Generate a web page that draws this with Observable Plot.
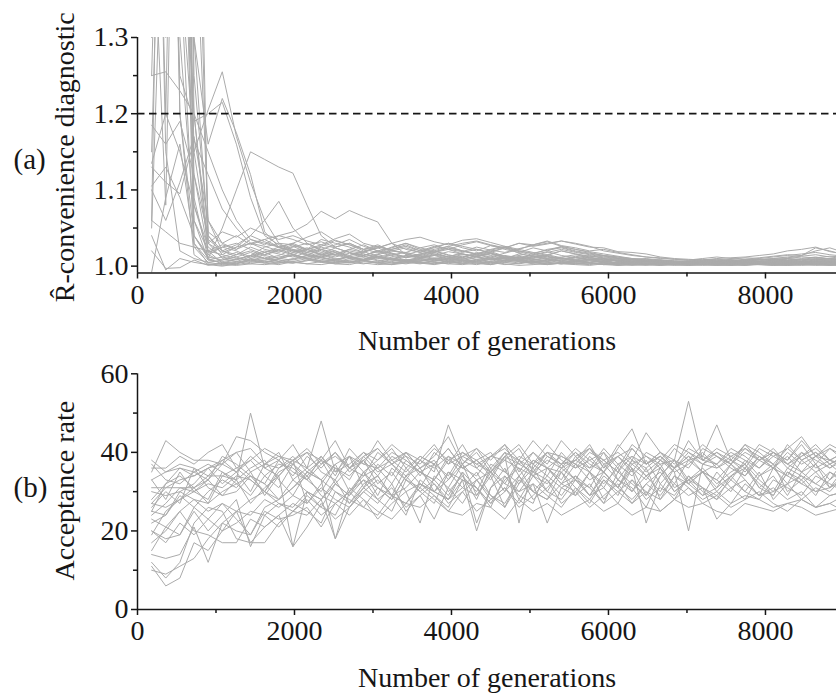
<!DOCTYPE html>
<html><head><meta charset="utf-8">
<script src="https://cdn.jsdelivr.net/npm/d3@7"></script>
<script src="https://cdn.jsdelivr.net/npm/@observablehq/plot@0.6"></script>
<style>
html,body{margin:0;padding:0;background:#fff;}
#chart{position:relative;width:836px;height:693px;overflow:hidden;background:#fff;}
#chart svg{position:absolute;left:0;}
</style></head><body><div id="chart"></div>
<script>
// x positions (number of generations) shared by every run
const generations = [180,360,540,720,900,1080,1260,1440,1620,1800,
  1980,2160,2340,2520,2700,2880,3060,3240,3420,3600,
  3780,3960,4140,4320,4500,4680,4860,5040,5220,5400,
  5580,5760,5940,6120,6300,6480,6660,6840,7020,7200,
  7380,7560,7740,7920,8100,8280,8460,8640,8820,9000];

// (a) R-hat per run, stored as (R-hat - 1) x 1000
const rhatRunsPermil = [
 [900,1500,800,40,12,8,15,20,14,10, 18,22,15,9,12,16,10,8,14,12, 9,11,15,13,8,10,12,9,7,10, 8,11,9,6,8,7,5,6,4,5, 6,5,7,6,8,7,9,8,10,9],
 [400,1200,1600,900,30,10,6,12,18,25, 20,14,22,18,12,9,15,20,17,11, 14,19,16,12,8,11,14,10,13,9, 12,8,10,7,9,6,8,5,7,6, 5,7,6,4,6,5,7,9,8,6],
 [150,800,1100,60,8,5,3,10,6,4, 9,14,11,7,5,8,12,9,6,4, 7,10,8,5,9,12,7,4,6,8, 5,7,4,3,6,4,3,5,4,3, 4,3,5,4,3,5,4,6,5,4],
 [700,300,900,120,20,4,2,5,8,12, 15,10,6,4,8,11,7,5,3,6, 9,6,4,7,10,5,3,6,8,4, 3,5,2,4,3,2,4,3,2,3, 2,3,4,2,3,2,3,4,3,2],
 [1200,900,400,25,5,2,1,3,2,4, 6,3,2,5,7,4,2,3,6,8, 5,3,2,4,6,3,1,2,4,3, 2,1,3,2,1,2,1,2,1,2, 1,2,1,3,2,1,2,1,2,1],
 [60,1100,500,200,15,6,9,14,25,30, 28,22,35,30,25,18,24,30,35,38, 32,28,34,36,31,26,22,28,33,27, 24,20,22,18,15,12,10,9,8,10, 12,10,9,11,13,15,14,20,24,18],
 [2000,1800,1300,300,35,20,28,40,32,25, 30,38,45,33,28,22,26,20,18,24, 28,22,19,25,21,18,23,27,30,33, 29,25,24,19,18,16,12,10,9,8, 10,11,12,14,16,20,22,25,19,16],
 [500,80,1000,700,40,15,10,8,12,6, 10,14,9,6,4,7,11,8,5,3, 6,9,7,4,2,5,8,6,3,5, 4,3,5,2,4,3,2,4,3,2, 3,4,2,3,5,3,4,3,5,4],
 [1000,150,20,10,5,8,12,6,4,9, 15,11,7,5,10,13,8,4,6,10, 8,5,3,7,11,9,6,4,8,6, 3,5,7,4,6,3,5,2,4,3, 5,4,3,5,4,6,5,7,6,5],
 [300,1400,700,30,3,1,4,7,10,8, 5,3,6,9,12,8,5,2,4,7, 10,7,4,2,5,8,6,3,2,4, 6,4,2,1,3,2,1,3,2,1, 2,1,3,2,1,2,3,2,1,2],
 [1600,600,1200,80,18,25,30,22,15,20, 26,18,12,16,22,28,20,14,11,15, 19,24,20,15,12,17,22,18,14,20, 16,12,14,10,8,6,7,5,6,7, 8,6,7,9,8,10,12,11,13,12],
 [800,1300,200,15,2,4,6,3,7,5, 4,8,5,3,2,6,4,9,7,5, 3,6,4,8,5,2,4,7,5,3, 6,4,3,5,2,4,3,2,3,4, 3,2,4,3,2,3,4,3,2,3],
 [50,600,1000,150,30,45,38,50,42,35, 40,33,28,36,42,30,25,22,28,20, 24,30,26,22,18,24,20,16,22,25, 20,17,14,12,10,9,8,7,6,7, 6,8,7,9,8,7,10,12,9,8],
 [1100,1500,900,500,60,20,12,18,10,14, 22,16,11,8,14,19,13,10,7,12, 16,12,9,13,17,11,8,12,15,11, 9,12,8,7,5,6,4,5,3,4, 5,4,6,5,4,6,5,7,6,5],
 [900,200,1100,90,10,3,5,9,4,2, 6,10,7,3,5,8,4,2,6,9, 5,3,7,4,2,6,9,5,3,4, 7,4,2,3,5,2,3,4,2,3, 4,2,3,4,3,2,4,3,4,3],
 [400,1700,1500,250,45,30,22,35,28,40, 35,28,32,25,30,22,18,25,30,24, 20,26,30,33,28,24,30,26,29,33, 30,26,20,17,14,12,11,9,8,9, 7,9,11,10,12,14,16,18,15,13],
 [250,255,230,200,150,100,60,35,30,25, 20,24,18,14,20,16,12,15,18,14, 10,13,16,12,9,14,11,8,12,10, 7,9,6,8,5,7,6,5,6,4, 6,5,7,6,5,7,6,8,7,6],
 [185,160,190,120,40,20,15,25,18,22, 28,20,15,24,18,14,20,17,12,16, 20,15,11,18,14,10,16,13,9,12, 15,11,8,10,7,6,8,5,6,7, 6,8,7,6,8,9,8,10,9,8],
 [135,200,150,80,25,12,8,14,20,16, 12,18,22,15,10,14,19,13,8,11, 15,10,7,12,16,11,8,13,10,7, 11,8,10,6,5,7,4,5,4,5, 4,5,6,5,4,6,5,6,5,4],
 [105,130,90,40,15,25,20,12,18,10, 8,12,16,10,6,9,13,8,5,7, 11,8,6,9,12,7,4,8,10,6, 8,5,7,4,6,3,5,4,3,4, 3,4,5,4,3,4,5,4,3,4],
 [100,60,110,170,60,30,40,28,35,25, 30,22,26,34,28,20,24,30,22,18, 25,30,24,20,27,22,18,24,20,26, 22,18,14,12,9,10,8,7,6,5, 6,7,8,7,9,8,7,9,10,8],
 [60,45,30,25,20,28,22,30,26,20, 15,22,28,24,18,12,16,22,26,20, 16,12,18,22,17,13,10,15,19,14, 11,14,10,8,6,7,5,4,5,6, 5,4,6,5,7,6,5,6,7,6],
 [40,-5,10,5,2,0,3,8,5,10, 14,9,5,8,12,7,4,6,9,5, 3,7,10,6,4,8,11,7,5,3, 6,9,5,4,2,3,2,1,2,3, 2,1,2,3,2,1,2,3,2,1],
 [-8,90,160,30,8,12,18,10,15,22, 16,10,14,20,12,8,15,11,7,10, 14,9,12,16,10,7,13,9,6,11, 8,5,7,4,3,4,2,3,2,3, 2,3,4,3,2,4,3,2,3,2],
 [20,-3,-2,8,1,4,9,14,10,6, 4,7,12,8,5,3,6,10,7,4, 2,5,8,6,3,7,10,5,2,4, 3,2,4,1,2,1,3,2,1,2, 1,2,1,2,1,2,1,2,1,2],
 [130,110,95,165,120,75,50,30,22,18, 25,30,20,15,22,18,26,21,16,12, 18,22,16,13,19,24,17,12,15,20, 16,13,11,9,8,7,6,5,4,5, 4,6,5,4,6,7,6,5,7,6],
 [600,1500,400,150,205,255,170,110,60,30, 20,15,12,18,10,8,12,9,14,10, 7,10,13,9,6,11,8,5,9,7, 5,8,6,4,3,4,3,2,3,4, 3,2,3,4,3,4,3,5,4,3],
 [250,900,1300,300,160,220,175,120,45,25, 18,22,16,12,17,14,20,16,11,14, 18,12,9,14,17,12,8,11,14,10, 7,9,6,8,5,4,3,4,5,3, 4,5,3,4,5,4,6,5,4,5],
 [1300,700,250,190,200,215,160,90,40,28, 22,18,25,20,14,19,24,17,12,16, 20,14,11,16,19,13,10,15,12,9, 13,10,8,7,6,5,4,5,6,4, 5,6,4,5,7,6,5,7,6,5],
 [1800,1000,200,40,10,50,100,150,140,130, 122,80,40,25,30,22,28,20,24,18, 22,26,20,16,21,25,19,14,18,22, 18,15,12,10,9,8,6,5,6,7, 8,7,9,8,10,11,13,15,12,10],
 [700,1900,300,60,20,15,25,30,35,40, 45,55,72,62,73,65,58,30,15,20, 26,22,28,32,27,24,30,28,32,26, 22,19,16,13,10,8,7,6,5,6, 7,6,8,9,10,12,14,24,20,15],
 [1000,400,1400,200,30,18,25,40,60,85, 50,30,22,28,35,26,20,24,30,22, 18,24,20,16,22,26,20,17,21,24, 19,16,13,11,9,8,7,6,7,8, 9,8,7,8,9,10,9,11,10,9]
];

// (b) acceptance rate (%) per run
const acceptanceRuns = [
 [35,43,40,38,38,37,40,41,37,36, 38,40,35,33,39,37,36,40,38,35, 37,41,36,38,34,39,37,40,36,35, 38,36,41,37,39,35,38,42,40,37, 36,39,41,38,36,40,37,39,38,36],
 [11,6,8,17,15,20,22,25,24,27, 26,30,28,32,29,33,31,28,34,30, 33,29,35,31,27,33,36,30,34,31, 29,35,32,36,30,34,37,31,33,35, 30,34,36,32,29,35,33,37,31,34],
 [10,9,11,13,18,22,20,19,25,23, 24,26,21,27,24,28,25,23,27,26, 29,25,24,27,26,23,28,25,27,24, 26,28,25,27,24,26,25,28,26,27, 25,24,27,26,25,27,26,24,25,26],
 [12,8,12,22,26,25,18,17,17,22, 25,28,24,27,30,26,24,29,27,31, 28,25,30,33,28,31,27,32,29,26, 31,28,33,30,27,32,29,34,31,28, 30,27,32,29,31,28,30,26,29,30],
 [14,13,14,21,12,22,25,17,21,24, 16,21,27,23,26,31,28,25,33,30, 27,35,31,29,34,26,32,36,30,28, 33,31,27,35,32,29,36,30,33,31, 28,34,37,31,29,35,32,30,33,36],
 [17,20,25,20,19,17,17,23,21,24, 27,25,22,30,28,26,31,29,24,33, 30,28,35,22,31,34,29,27,36,32, 30,35,28,33,31,26,34,38,32,29, 35,31,28,34,37,30,33,29,35,32],
 [20,18,19,25,20,24,28,16,24,21, 25,24,28,18,26,30,27,32,25,29, 23,31,27,33,29,26,34,30,28,35, 31,27,33,29,36,22,32,28,34,31, 29,33,30,35,28,32,34,30,31,33],
 [23,21,19,26,23,20,25,28,30,27, 25,29,26,24,31,28,23,27,30,32, 29,26,33,31,27,30,34,28,31,35, 29,32,27,30,33,28,31,29,34,30, 28,31,33,29,30,32,28,31,29,30],
 [25,24,30,28,25,27,23,19,26,28, 33,30,26,32,29,35,31,28,34,36, 30,33,37,29,35,32,38,34,30,36, 33,39,35,31,37,34,36,32,38,35, 33,37,34,39,36,32,38,35,37,34],
 [27,31,33,34,36,32,35,38,34,37, 36,33,39,35,37,40,36,38,35,39, 37,41,36,38,40,35,39,37,42,38, 36,40,38,35,41,37,39,36,43,38, 40,37,41,39,36,42,38,40,37,39],
 [38,35,36,34,36,37,44,43,40,38, 42,36,39,34,41,37,43,38,40,36, 39,44,37,41,38,42,35,40,37,43, 39,41,36,42,38,45,40,37,41,39, 47,38,42,40,37,41,44,39,42,40],
 [37,33,32,35,37,35,33,50,36,38, 34,39,36,40,35,38,41,37,39,34, 40,37,42,36,39,38,41,35,40,37, 38,42,36,39,41,37,40,38,36,41, 39,37,42,38,40,36,39,41,38,40],
 [30,29,30,32,36,38,35,30,37,40, 33,36,48,35,39,31,37,34,40,36, 38,33,39,37,35,40,34,38,36,39, 37,35,40,33,38,36,39,35,37,40, 36,38,35,39,37,34,40,36,38,37],
 [26,30,27,36,31,29,33,27,31,34, 38,27,32,37,30,35,29,36,33,31, 37,30,34,28,36,32,30,35,33,29, 34,31,37,33,30,36,28,34,32,35, 33,30,36,31,34,29,35,32,30,34],
 [31,31,31,31,34,34,33,36,38,33, 29,35,33,18,30,34,36,32,38,35, 33,39,34,30,37,35,32,38,36,33, 39,35,31,37,34,38,32,36,39,35, 37,33,38,34,36,39,35,37,33,38],
 [22,24,29,26,30,33,31,35,29,34, 16,30,28,33,27,31,34,29,36,32, 30,35,33,20,31,36,28,34,32,37, 33,29,35,31,38,34,30,36,32,35, 31,37,33,29,36,34,32,35,31,36],
 [24,27,31,30,28,35,32,29,34,31, 37,33,30,36,34,38,32,35,30,22, 34,31,37,33,35,30,38,34,36,32, 37,33,35,31,36,29,34,38,33,36, 32,35,37,33,30,36,34,32,35,33],
 [28,32,34,31,27,34,36,33,30,36, 39,35,38,32,36,34,40,37,33,38, 35,47,38,36,33,39,22,37,34,40, 36,38,35,41,46,37,39,36,40,38, 37,41,39,36,40,38,42,37,41,39],
 [36,36,39,37,40,42,36,38,41,39, 37,40,38,43,36,39,41,37,40,38, 42,37,39,41,36,40,38,43,39,37, 41,38,40,36,42,39,37,38,53,38, 41,39,37,42,40,38,43,39,41,38],
 [33,28,35,30,33,39,37,34,32,38, 35,33,37,40,36,38,34,39,37,35, 33,38,36,34,39,41,37,35,38,36, 40,37,35,39,36,33,38,35,20,37, 39,36,34,38,40,37,35,39,36,38],
 [15,21,25,28,27,30,32,34,30,28, 31,34,29,27,30,33,28,31,26,29, 32,27,30,25,28,31,26,29,33,27, 30,26,29,32,27,30,25,28,31,27, 29,26,28,30,27,25,28,26,27,29],
 [19,25,28,30,32,31,34,33,30,35, 37,34,38,36,33,39,35,37,34,38, 36,39,37,40,35,38,36,34,39,37, 40,36,38,35,39,37,40,36,38,39, 37,40,38,36,39,41,38,40,37,39],
 [33,35,37,36,34,38,40,35,37,39, 38,41,37,39,36,40,38,42,39,37, 41,38,40,37,39,42,38,36,40,39, 37,41,38,40,37,39,36,41,38,42, 39,37,40,38,41,37,39,42,38,40],
 [27,26,28,31,33,29,30,34,32,28, 31,35,33,30,27,32,34,29,31,35, 32,28,33,31,26,34,30,32,22,31, 33,29,34,31,28,32,35,30,33,29, 31,34,30,28,33,31,29,34,32,30],
 [20,17,22,19,23,27,25,24,28,26, 29,27,31,28,26,30,33,29,27,32, 30,28,31,35,29,27,33,30,28,32, 34,29,31,27,33,30,28,32,29,31, 23,27,29,28,26,27,28,26,27,25],
 [25,32,36,35,33,37,35,39,36,34, 38,36,33,37,39,35,38,41,36,39, 37,34,40,38,35,39,42,37,40,36, 38,41,37,39,35,40,38,36,39,37, 40,38,36,41,39,37,40,38,36,39]
];

// axes, ticks and reference line
const genDomain = [0, 8905];
const genTicks = [0, 2000, 4000, 6000, 8000];
const genMinorTicks = [1000, 3000, 5000, 7000];
const rhatDomain = [0.991, 1.3];
const rhatTicks = [1.0, 1.1, 1.2, 1.3];
const rhatMinorTicks = [1.05, 1.15, 1.25];
const rhatThreshold = [1.2];
const accDomain = [0, 60];
const accTicks = [0, 20, 40, 60];
const accMinorTicks = [10, 30, 50];
const xTitle = "Number of generations";
const rhatTitle = "R\u0302-convenience diagnostic";
const accTitle = "Acceptance rate";
const panelLabels = ["(a)", "(b)"];

const FONT = '"Liberation Serif","Times New Roman",Times,serif';
const INK = "#161616";
const GREY = "#ababab";
const FS = 28;

function toRows(runs, conv) {
  const rows = [];
  runs.forEach((vals, r) => vals.forEach((v, i) => rows.push({run: r, generation: generations[i], value: conv(v)})));
  return rows;
}
const rhatRows = toRows(rhatRunsPermil, v => 1 + v / 1000);
const accRows = toRows(acceptanceRuns, v => v);

const baseStyle = {fontFamily: FONT, fontSize: FS + "px", color: INK, background: "none", overflow: "visible"};

function axes(yTicks, yMinor, yFmt) {
  return [
    Plot.axisX({ticks: genTicks, tickSize: 6, tickPadding: 5, strokeWidth: 1.5, stroke: INK, fill: INK, fontSize: FS, label: null, tickFormat: d => String(d)}),
    Plot.axisX({ticks: genMinorTicks, tickSize: 4, strokeWidth: 1.5, stroke: INK, label: null, tickFormat: () => ""}),
    Plot.axisY({ticks: yTicks, tickSize: 6, tickPadding: 3, strokeWidth: 1.5, stroke: INK, fill: INK, fontSize: FS, label: null, tickFormat: yFmt}),
    Plot.axisY({ticks: yMinor, tickSize: 4, strokeWidth: 1.5, stroke: INK, label: null, tickFormat: () => ""})
  ];
}

function titles(yTitle, yCenterDy, panelLabel, labelDy) {
  return [
    Plot.text([xTitle], {text: d => d, frameAnchor: "bottom", textAnchor: "middle", lineAnchor: "middle", dy: 68.5, fill: INK, fontSize: FS}),
    Plot.text([yTitle], {text: d => d, frameAnchor: "left", textAnchor: "middle", lineAnchor: "middle", rotate: -90, dx: -72, dy: yCenterDy, fill: INK, fontSize: FS}),
    Plot.text([panelLabel], {text: d => d, frameAnchor: "left", textAnchor: "start", lineAnchor: "middle", dx: 13 - 137, dy: labelDy, fontSize: 29, fill: INK})
  ];
}

const plotA = Plot.plot({
  width: 836, height: 340, marginLeft: 137, marginRight: 0, marginTop: 37, marginBottom: 67.5,
  style: baseStyle,
  x: {domain: genDomain},
  y: {domain: rhatDomain},
  marks: [
    Plot.line(rhatRows, {x: "generation", y: "value", z: "run", stroke: GREY, strokeWidth: 1, clip: true}),
    Plot.ruleY(rhatThreshold, {stroke: INK, strokeWidth: 1.8, strokeDasharray: "7.5,4.5"}),
    Plot.ruleX([genDomain[0]], {stroke: INK, strokeWidth: 1.5}),
    Plot.ruleY([rhatDomain[0]], {stroke: INK, strokeWidth: 1.5}),
    ...axes(rhatTicks, rhatMinorTicks, d3.format(".1f")),
    ...titles(rhatTitle, 2, panelLabels[0], 4)
  ]
});

const plotB = Plot.plot({
  width: 836, height: 353, marginLeft: 137, marginRight: 0, marginTop: 33.3, marginBottom: 84,
  style: baseStyle,
  x: {domain: genDomain},
  y: {domain: accDomain},
  marks: [
    Plot.line(accRows, {x: "generation", y: "value", z: "run", stroke: GREY, strokeWidth: 1, clip: true}),
    Plot.ruleX([genDomain[0]], {stroke: INK, strokeWidth: 1.5}),
    Plot.ruleY([accDomain[0]], {stroke: INK, strokeWidth: 1.5}),
    ...axes(accTicks, accMinorTicks, d => String(d)),
    ...titles(accTitle, -1, panelLabels[1], -3.5)
  ]
});

const chart = document.getElementById("chart");
plotA.style.top = "0px";
plotB.style.top = "340px";
chart.appendChild(plotA);
chart.appendChild(plotB);
</script></body></html>
